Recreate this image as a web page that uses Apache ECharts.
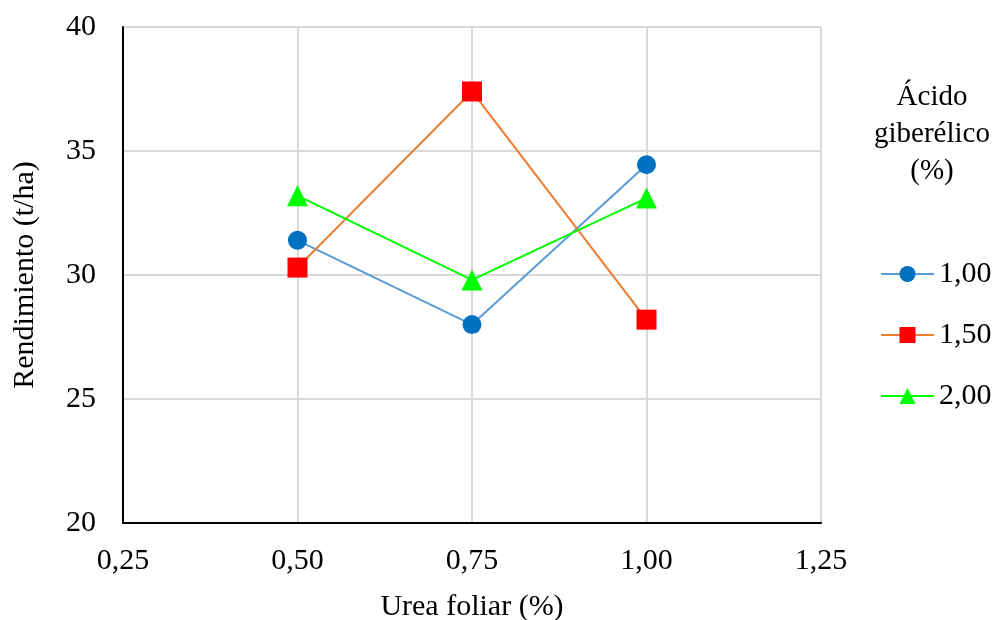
<!DOCTYPE html>
<html><head><meta charset="utf-8">
<script src="https://cdn.jsdelivr.net/npm/echarts@6/dist/echarts.min.js"></script>
<style>html,body{margin:0;padding:0;background:#fff}#c{width:998px;height:620px}</style>
</head><body><div id="c"></div>
<script>
const urea = [0.5, 0.75, 1.0];
const s100 = [31.4, 28.0, 34.45];
const s150 = [30.3, 37.4, 28.2];
const s200 = [33.2, 29.8, 33.1];
const seriesNames = ['1,00', '1,50', '2,00'];
const legendTitle = 'Ácido\ngiberélico\n(%)';
const xName = 'Urea foliar (%)';
const yName = 'Rendimiento (t/ha)';

const font = 'Liberation Serif';
const fs = 30;
const chart = echarts.init(document.getElementById('c'));
const pair = arr => urea.map((u, i) => [u, arr[i]]);
const fmt = v => v.toFixed(2).replace('.', ',');
chart.setOption({
  animation: false,
  textStyle: {fontFamily: font},
  grid: {left: 123, right: 177, top: 27, bottom: 97, containLabel: false, outerBoundsMode: 'none'},
  title: {text: legendTitle, left: 927, top: 74, textAlign: 'center',
    textStyle: {fontFamily: font, fontSize: 29, fontWeight: 'normal', color: '#000', lineHeight: 37}},
  legend: {orient: 'vertical', left: 875, top: 254, itemWidth: 53, itemHeight: 20, itemGap: 31,
    textStyle: {fontFamily: font, fontSize: fs, color: '#000', lineHeight: 30},
    data: seriesNames},
  xAxis: {type: 'value', min: 0.25, max: 1.25, interval: 0.25,
    name: xName, nameLocation: 'middle', nameGap: 69,
    nameTextStyle: {fontFamily: font, fontSize: fs, color: '#000'},
    axisLine: {lineStyle: {color: '#000', width: 2}}, axisTick: {show: false},
    axisLabel: {formatter: fmt, fontFamily: font, fontSize: fs, color: '#000', margin: 23},
    splitLine: {show: true, lineStyle: {color: '#d9d9d9', width: 2}}},
  yAxis: {type: 'value', min: 20, max: 40, interval: 5,
    name: yName, nameLocation: 'middle', nameGap: 83,
    nameTextStyle: {fontFamily: font, fontSize: fs, color: '#000'},
    axisLine: {show: true, lineStyle: {color: '#000', width: 2}}, axisTick: {show: false},
    axisLabel: {fontFamily: font, fontSize: fs, color: '#000', margin: 27},
    splitLine: {show: true, lineStyle: {color: '#d9d9d9', width: 2}}},
  series: [
    {name: seriesNames[0], type: 'line', data: pair(s100), symbol: 'circle', symbolSize: 19,
      lineStyle: {color: '#5B9BD5', width: 2}, itemStyle: {color: '#0070C0'}},
    {name: seriesNames[1], type: 'line', data: pair(s150), symbol: 'rect', symbolSize: 20,
      lineStyle: {color: '#ED7D31', width: 2}, itemStyle: {color: '#FF0000'}},
    {name: seriesNames[2], type: 'line', data: pair(s200), symbol: 'triangle', symbolSize: 21,
      lineStyle: {color: '#00FF00', width: 2}, itemStyle: {color: '#00FF00'}}
  ]
});
</script></body></html>
